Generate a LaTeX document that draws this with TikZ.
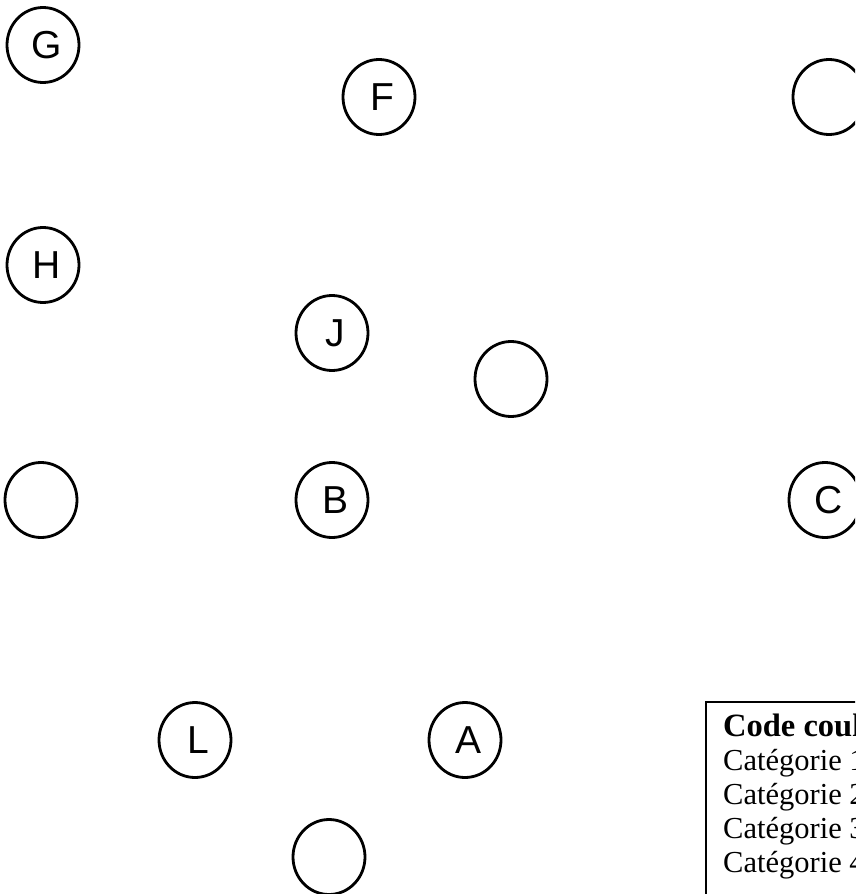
\documentclass[tikz,border=0pt]{standalone}
\usepackage{fontspec}
\setmainfont{Liberation Serif}
\newfontfamily\lsans{Liberation Sans}
\usetikzlibrary{shapes.geometric}
\newcommand{\ltr}[1]{\hspace*{7pt}#1}
\tikzset{
  pt/.style={draw=black, line width=2.8pt, ellipse, minimum width=72pt, minimum height=75pt, inner sep=0pt,
             font=\lsans\fontsize{39}{39}\selectfont},
  legtext/.style={anchor=base west, inner sep=0pt, font=\fontsize{30.5}{30.5}\selectfont},
}
\begin{document}
\begin{tikzpicture}[x=1pt,y=-1pt]
\useasboundingbox (0,0) rectangle (855,894);
\clip (0,0) rectangle (855,894);
\node[pt] (G) at (43,45) {\ltr{G}};
\node[pt] (F) at (379,97) {\ltr{F}};
\node[pt] (TR) at (829,97) {};
\node[pt] (H) at (43,265) {\ltr{H}};
\node[pt] (J) at (332,333) {\ltr{J}};
\node[pt] (E) at (511,379) {};
\node[pt] (W) at (41,500) {};
\node[pt] (B) at (332,500) {\ltr{B}};
\node[pt] (C) at (825,500) {\ltr{C}};
\node[pt] (L) at (195,740) {\ltr{L}};
\node[pt] (A) at (465,740) {\ltr{A}};
\node[pt] (D) at (329,857) {};
% legend
\coordinate (lgtl) at (706,702);
\coordinate (lgbr) at (880,920);
\draw[line width=1.6pt] (lgtl) rectangle (lgbr);
\node[legtext, font=\bfseries\fontsize{32.5}{32.5}\selectfont] (l0) at (723,736) {Code couleur};
\node[legtext] (l1) at (723,770) {Catégorie 1};
\node[legtext] (l2) at (723,804) {Catégorie 2};
\node[legtext] (l3) at (723,838) {Catégorie 3};
\node[legtext] (l4) at (723,872) {Catégorie 4};
\end{tikzpicture}
\end{document}
